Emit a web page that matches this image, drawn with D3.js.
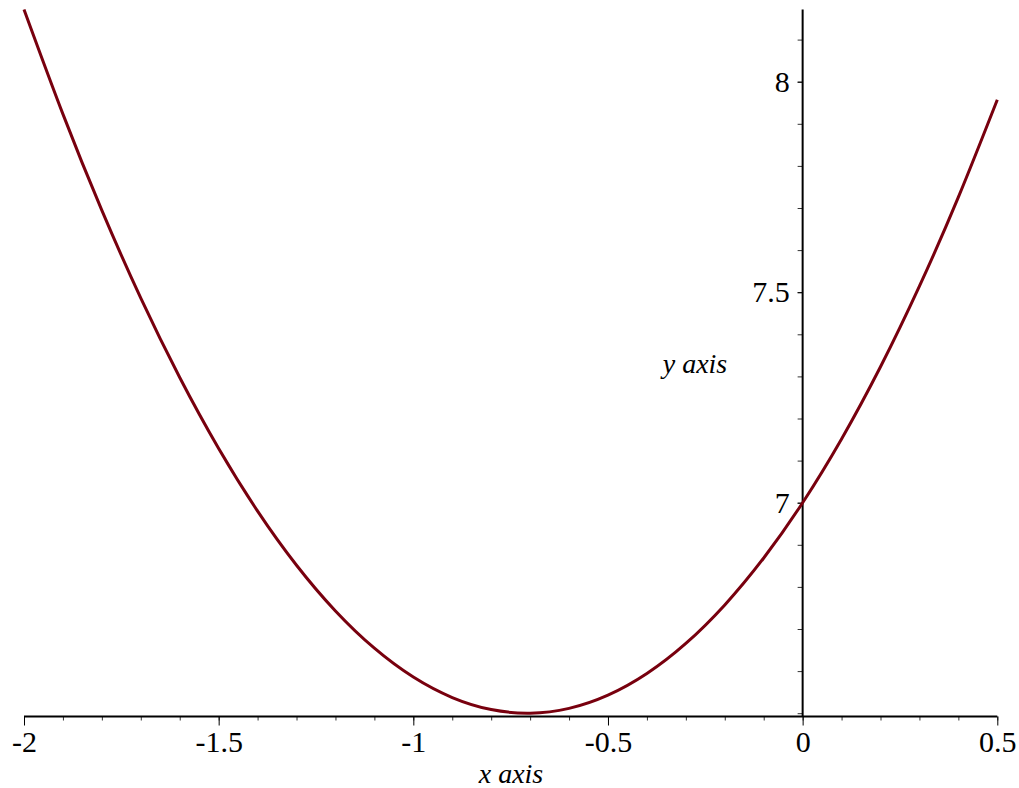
<!DOCTYPE html>
<html>
<head>
<meta charset="utf-8">
<script src="https://cdn.jsdelivr.net/npm/d3@7"></script>
<style>
  body { margin: 0; background: white; }
</style>
</head>
<body>
<div id="chart"></div>
<script>
// points
const xValues = [-2.0, -1.9, -1.8, -1.7, -1.6, -1.5, -1.4, -1.3, -1.2, -1.1, -1.0,
    -0.9, -0.8, -0.7, -0.6, -0.5, -0.4, -0.3, -0.2, -0.1, 0.0, 0.1, 0.2, 0.3, 0.4, 0.5];
const yValues = [8.1716, 7.9230, 7.6944, 7.4858, 7.2973, 7.1287, 6.9801, 6.8515, 6.7429, 6.6544, 6.5858,
    6.5372, 6.5086, 6.5001, 6.5115, 6.5429, 6.5943, 6.6657, 6.7572, 6.8686, 7.0, 7.1514, 7.3228, 7.5143, 7.7257, 7.9571];
const xTickLabels = [-2, -1.5, -1, -0.5, 0, 0.5];
const yTickLabels = [7, 7.5, 8];
const xLabel = "x axis";
const yLabel = "y axis";

const width = 1019, height = 788;
const serif = "'Liberation Serif', 'Times New Roman', Times, 'DejaVu Serif', serif";

var xScale = d3.scaleLinear().domain([-2, 0.5]).range([24, 997.3]);
var yScale = d3.scaleLinear().domain([7, 8]).range([502.7, 81.7]);

var svg = d3.select("#chart").append("svg")
    .attr("width", width)
    .attr("height", height);

var yBottom = 716.5;
var yTop = yScale(8.1716);

// x axis: major ticks at 0.5, minor every 0.1
var xMinor = d3.range(-20, 6).map(d => d / 10);
svg.append("g")
    .attr("transform", "translate(0," + yBottom + ")")
    .call(d3.axisBottom(xScale).tickValues(xMinor).tickSize(4).tickFormat(""))
    .call(g => g.select(".domain").remove())
    .selectAll("line").attr("stroke", "#333").attr("stroke-width", 1);

svg.append("g")
    .attr("transform", "translate(0," + yBottom + ")")
    .call(d3.axisBottom(xScale).tickValues(xTickLabels).tickSize(9).tickPadding(5)
        .tickFormat(d => d3.format("")(d).replace("−", "-")))
    .call(g => g.select(".domain").remove())
    .call(g => g.selectAll("line").attr("stroke", "black").attr("stroke-width", 1))
    .call(g => g.selectAll("text")
        .attr("fill", "black")
        .style("font-size", "30px")
        .style("font-family", serif));

svg.append("line")
    .attr("x1", xScale(-2)).attr("x2", xScale(0.5))
    .attr("y1", yBottom).attr("y2", yBottom)
    .attr("stroke", "black").attr("stroke-width", 2);

// y axis at x = 0
var x0 = xScale(0);
var yMinor = d3.range(65, 82).map(d => d / 10);
svg.append("g")
    .attr("transform", "translate(" + x0 + ",0)")
    .call(d3.axisLeft(yScale).tickValues(yMinor).tickSize(5).tickFormat(""))
    .call(g => g.select(".domain").remove())
    .selectAll("line").attr("stroke", "#333").attr("stroke-width", 1);

svg.append("g")
    .attr("transform", "translate(" + x0 + ",0)")
    .call(d3.axisLeft(yScale).tickValues(yTickLabels).tickSize(5).tickPadding(8).tickFormat(d3.format("")))
    .call(g => g.select(".domain").remove())
    .call(g => g.selectAll("line").attr("stroke", "black"))
    .call(g => g.selectAll("text")
        .attr("fill", "black")
        .style("font-size", "30px")
        .style("font-family", serif));

svg.append("line")
    .attr("x1", x0).attr("x2", x0)
    .attr("y1", yTop).attr("y2", yBottom)
    .attr("stroke", "black").attr("stroke-width", 2);

// curve
var line = d3.line()
    .x((d, i) => xScale(xValues[i]))
    .y(d => yScale(d))
    .curve(d3.curveNatural);

svg.append("path")
    .datum(yValues)
    .attr("d", line)
    .attr("fill", "none")
    .attr("stroke", "#78000e")
    .attr("stroke-width", 3);

// axis labels
svg.append("text")
    .attr("x", 511)
    .attr("y", 783)
    .attr("text-anchor", "middle")
    .style("font-family", serif)
    .style("font-style", "italic")
    .style("font-size", "28px")
    .text(xLabel);

svg.append("text")
    .attr("x", 695)
    .attr("y", 373)
    .attr("text-anchor", "middle")
    .style("font-family", serif)
    .style("font-style", "italic")
    .style("font-size", "28px")
    .text(yLabel);
</script>
</body>
</html>
